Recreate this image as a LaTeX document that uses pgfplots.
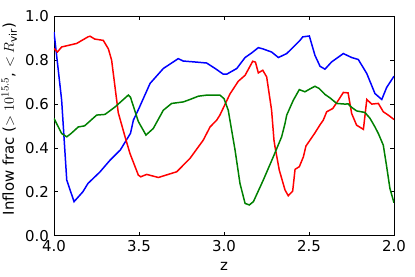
\documentclass[border=0pt]{standalone}
\usepackage{pgfplots}
\pgfplotsset{compat=1.18}
\usepackage{fontspec}
\setmainfont{DejaVu Sans}
\begin{document}
\fontsize{15}{18}\selectfont
\begin{tikzpicture}
\useasboundingbox (0,0) rectangle (415bp,277bp);
\begin{axis}[
  at={(54bp,41.3bp)}, anchor=south west,
  width=340bp, height=219.7bp, scale only axis,
  x dir=reverse,
  xmin=2, xmax=4, ymin=0, ymax=1,
  xtick={2,2.5,3,3.5,4}, ytick={0,0.2,0.4,0.6,0.8,1},
  tick align=inside, major tick length=4bp,
  xticklabel style={/pgf/number format/.cd,fixed,fixed zerofill,precision=1},
  yticklabel style={/pgf/number format/.cd,fixed,fixed zerofill,precision=1},
  /pgf/number format/assume math mode=true,
  tick label style={font=\fontsize{15}{18}\selectfont},
  label style={font=\fontsize{15}{18}\selectfont},
  xlabel={z}, ylabel={Inflow frac ($>10^{15.5}$, $<R_{\rm vir}$)},
  xlabel style={yshift=0bp},
  ylabel style={yshift=-2bp, xshift=7bp},
  axis line style={line width=0.8pt},
  every tick/.style={black, line width=0.6pt},
  clip=true,
]
\addplot[blue, line width=1.5pt] coordinates {
(4.0,0.927) (3.955,0.617) (3.925,0.253) (3.882,0.155) (3.83,0.200) (3.80,0.238)
(3.73,0.290) (3.67,0.344) (3.61,0.390) (3.55,0.466) (3.533,0.526) (3.50,0.58)
(3.435,0.693) (3.357,0.761) (3.269,0.806) (3.24,0.795) (3.16,0.79) (3.102,0.786)
(3.05,0.76) (3.004,0.735) (2.984,0.735) (2.925,0.761) (2.876,0.811) (2.837,0.832)
(2.798,0.856) (2.77,0.85) (2.72,0.836) (2.68,0.811) (2.631,0.829) (2.553,0.889)
(2.537,0.905) (2.498,0.909) (2.465,0.821) (2.435,0.771) (2.406,0.758) (2.367,0.791)
(2.298,0.829) (2.249,0.811) (2.21,0.802) (2.16,0.738) (2.112,0.647) (2.072,0.62)
(2.043,0.675) (2.0,0.726)
};
\addplot[red, line width=1.5pt] coordinates {
(4.0,0.852) (3.98,0.836) (3.955,0.859) (3.867,0.875) (3.80,0.905) (3.788,0.908)
(3.76,0.895) (3.71,0.889) (3.68,0.85) (3.661,0.799) (3.622,0.560) (3.582,0.45)
(3.553,0.374) (3.504,0.276) (3.49,0.268) (3.455,0.279) (3.386,0.265) (3.278,0.291)
(3.2,0.352) (3.122,0.435) (3.082,0.495) (3.043,0.526) (3.024,0.549) (2.965,0.645)
(2.916,0.703) (2.876,0.730) (2.831,0.794) (2.815,0.79) (2.798,0.741) (2.772,0.753)
(2.749,0.723) (2.72,0.571) (2.706,0.435) (2.700,0.405) (2.675,0.299) (2.641,0.208)
(2.622,0.182) (2.596,0.203) (2.582,0.302) (2.557,0.314) (2.533,0.359) (2.518,0.408)
(2.494,0.435) (2.465,0.468) (2.435,0.505) (2.416,0.526) (2.396,0.564) (2.36,0.579)
(2.327,0.617) (2.298,0.652) (2.27,0.650) (2.249,0.556) (2.22,0.503) (2.18,0.484)
(2.16,0.620) (2.131,0.599) (2.092,0.602) (2.063,0.564) (2.034,0.549) (2.0,0.529)
};
\addplot[green!50!black, line width=1.5pt] coordinates {
(4.0,0.534) (3.955,0.465) (3.925,0.450) (3.90,0.465) (3.857,0.495) (3.82,0.50)
(3.749,0.549) (3.70,0.552) (3.641,0.586) (3.563,0.640) (3.55,0.63) (3.504,0.520)
(3.459,0.458) (3.416,0.488) (3.357,0.571) (3.308,0.602) (3.239,0.609) (3.2,0.620)
(3.151,0.635) (3.10,0.640) (3.024,0.640) (3.0,0.624) (2.975,0.571) (2.945,0.435)
(2.935,0.39) (2.906,0.238) (2.876,0.147) (2.851,0.140) (2.827,0.155) (2.769,0.253)
(2.71,0.359) (2.661,0.450) (2.641,0.511) (2.631,0.549) (2.592,0.617) (2.557,0.665)
(2.524,0.655) (2.49,0.67) (2.465,0.680) (2.44,0.67) (2.406,0.643) (2.376,0.627)
(2.337,0.602) (2.288,0.599) (2.27,0.60) (2.249,0.584) (2.22,0.568) (2.171,0.561)
(2.141,0.534) (2.112,0.495) (2.092,0.465) (2.063,0.412) (2.043,0.314) (2.024,0.215)
(2.0,0.150)
};
\end{axis}
\end{tikzpicture}
\end{document}
